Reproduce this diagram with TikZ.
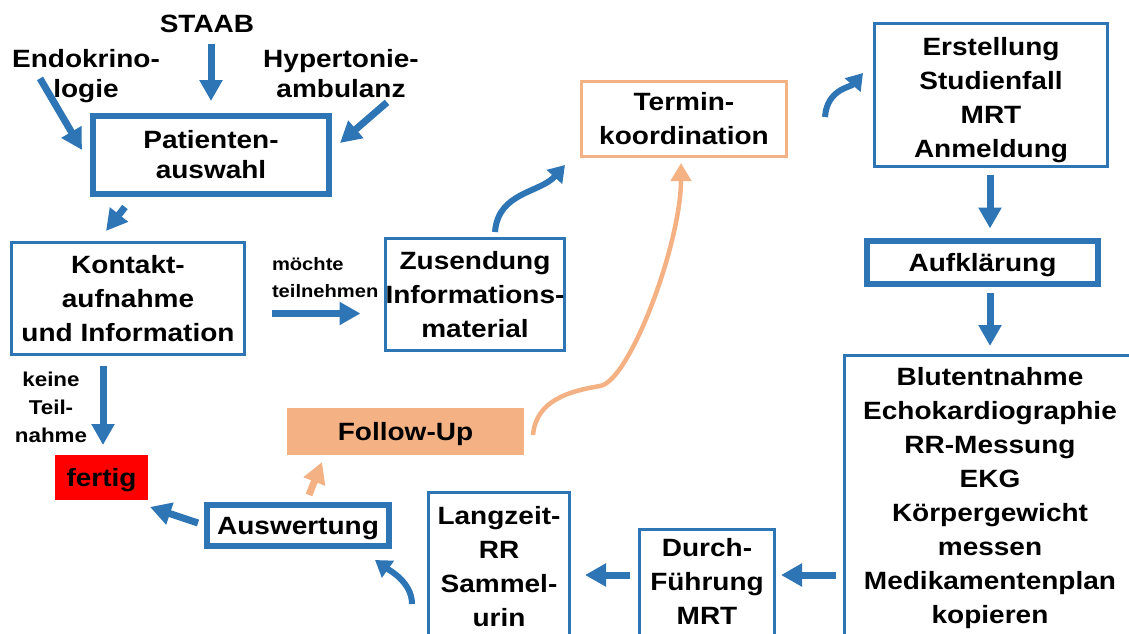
\documentclass[tikz,border=0pt]{standalone}
\usepackage{fontspec}
\setmainfont{Liberation Sans}[FakeStretch=1.12]
\usepackage{tikz}
\usetikzlibrary{calc}
\usetikzlibrary{arrows.meta}
\definecolor{pblue}{HTML}{2E75B6}
\definecolor{porange}{HTML}{F4B183}
\definecolor{pred}{HTML}{FF0000}

\begin{document}
\begin{tikzpicture}[x=1pt, y=-1pt, every node/.style={font=\bfseries\fontsize{25}{34}\selectfont, align=center, inner sep=0pt, outer sep=0pt}, thinbox/.style={draw=pblue, line width=3pt}, thickbox/.style={draw=pblue, line width=6pt}, tight/.style={font=\bfseries\fontsize{25}{30}\selectfont}, small/.style={font=\bfseries\fontsize{18}{27}\selectfont}, arr/.style={draw=pblue, line width=7pt, -{Triangle[length=21pt,width=22pt]}}, carr/.style={draw=pblue, line width=6pt, -{Triangle[length=16pt,width=20pt]}}, oarr/.style={draw=porange, line width=4.5pt, -{Triangle[length=18pt,width=20pt]}}]
			\useasboundingbox (0,0) rectangle (1129,634);
			\clip (0,0) rectangle (1129,634);

			\node (staab) at (207,24) {STAAB};
			\node[tight, anchor=north] (endo) at (86,49) {Endokrino-\\logie};
			\node[tight, anchor=north] (hyp) at (341,49) {Hypertonie-\\ambulanz};
			\node[thickbox, tight, minimum width=236pt, minimum height=78pt] (pat) at (211,155) {Patienten-\\auswahl};

			\node[thinbox, minimum width=233pt, minimum height=112pt] (kon) at (128,298.5) {Kontakt-\\aufnahme\\und Information};
			\node[small, anchor=north west, align=left] (moechte) at (272,257) {möchte\\teilnehmen};
			\node[small, font=\bfseries\fontsize{20}{28}\selectfont, anchor=north] (keine) at (51,372) {keine\\Teil-\\nahme};
			\node[fill=pred, text depth=0pt, minimum width=93pt, minimum height=45pt] (fertig) at (101.5,477.5) {fertig};

			\node[thinbox, minimum width=179pt, minimum height=112pt] (zus) at (475,294.5) {Zusendung\\Informations-\\material};
			\node[draw=porange, line width=3pt, minimum width=205pt, minimum height=75pt] (term) at (684,119) {Termin-\\koordination};
			\node[thinbox, text height=125pt, text depth=0pt, minimum width=233pt, minimum height=143pt] (erst) at (991,95) {Erstellung\\Studienfall\\MRT\\Anmeldung};
			\node[thickbox, text depth=0pt, minimum width=231pt, minimum height=43pt] (aufk) at (982.5,262.5) {Aufklärung};

			%boxes below run off the lower edge
			\node[thinbox, anchor=north, minimum width=291pt, inner ysep=12pt, text depth=60pt] (blut) at (990,355.5) {Blutentnahme\\Echokardiographie\\RR-Messung\\EKG\\Körpergewicht\\messen\\Medikamentenplan\\kopieren};
			\node[thinbox, anchor=north, minimum width=135pt, inner ysep=9pt, text depth=60pt] (durch) at (707,529.5) {Durch-\\Führung\\MRT};
			\node[thinbox, anchor=north, minimum width=141pt, inner ysep=14pt, text depth=60pt] (lang) at (499,492.5) {Langzeit-\\RR\\Sammel-\\urin};
			\node[thickbox, text depth=0pt, minimum width=182pt, minimum height=41pt] (ausw) at (298,525.5) {Auswertung};
			\node[fill=porange, text depth=0pt, minimum width=237pt, minimum height=47pt] (follow) at (405.5,431.5) {Follow-Up};

			\draw[arr] ($(staab.south)+(4,11)$) -- ($(pat.north)+(0,-15)$);
			\draw[arr] ($(endo.south)+(-46,-24)$) -- ($(pat.north west)+(-11,34)$);
			\draw[arr] ($(hyp.south)+(46,5)$) -- ($(pat.north east)+(11,27)$);
			\draw[arr] ($(pat.south west)+(32,13)$) -- ($(kon.north)+(-22,-11.5)$);
			\draw[arr] ($(kon.east)+(27,15)$) -- ($(zus.west)+(-25,19)$);
			\draw[arr] ($(kon.south)+(-25,11.5)$) -- ($(fertig.north)+(1.5,-10)$);

			\draw[carr] ($(zus.north)+(20,-6.5)$) .. controls +(3,-40) and +(-25,28) .. ($(term.south west)+(-16.5,8.5)$);
			\draw[carr] ($(term.east)+(38.5,-2)$) .. controls +(2,-28) and +(-12,14) .. ($(erst.west)+(-11.5,-22)$);
			\draw[arr] ($(erst.south)+(-1,8.5)$) -- ($(aufk.north)+(7.5,-12.5)$);
			\draw[arr] ($(aufk.south)+(7.5,9)$) -- ($(blut.north)+(0,-9.5)$);
			\draw[arr] ($(blut.north west)+(-8.5,219.5)$) -- ($(durch.north east)+(6.5,45.5)$);
			\draw[arr] ($(durch.north west)+(-9.5,45.5)$) -- ($(lang.north east)+(15.5,82.5)$);
			\draw[carr] ($(lang.north west)+(-16.5,111.5)$) .. controls +(0,-22) and +(14,10) .. ($(ausw.south east)+(-14,14)$);
			\draw[arr] ($(ausw.west)+(-9,-2.5)$) -- ($(fertig.south east)+(2,7)$);

			\draw[arr, draw=porange] ($(ausw.north)+(11,-10)$) -- ($(follow.south)+(-83.5,7)$);
			\draw[oarr] ($(follow.east)+(9,3.5)$) .. controls +(3,-35) and +(-30,5) .. (600,386) .. controls +(30,-5) and +(0,80) .. ($(term.south)+(-3,6.5)$);

		\end{tikzpicture}
\end{document}
